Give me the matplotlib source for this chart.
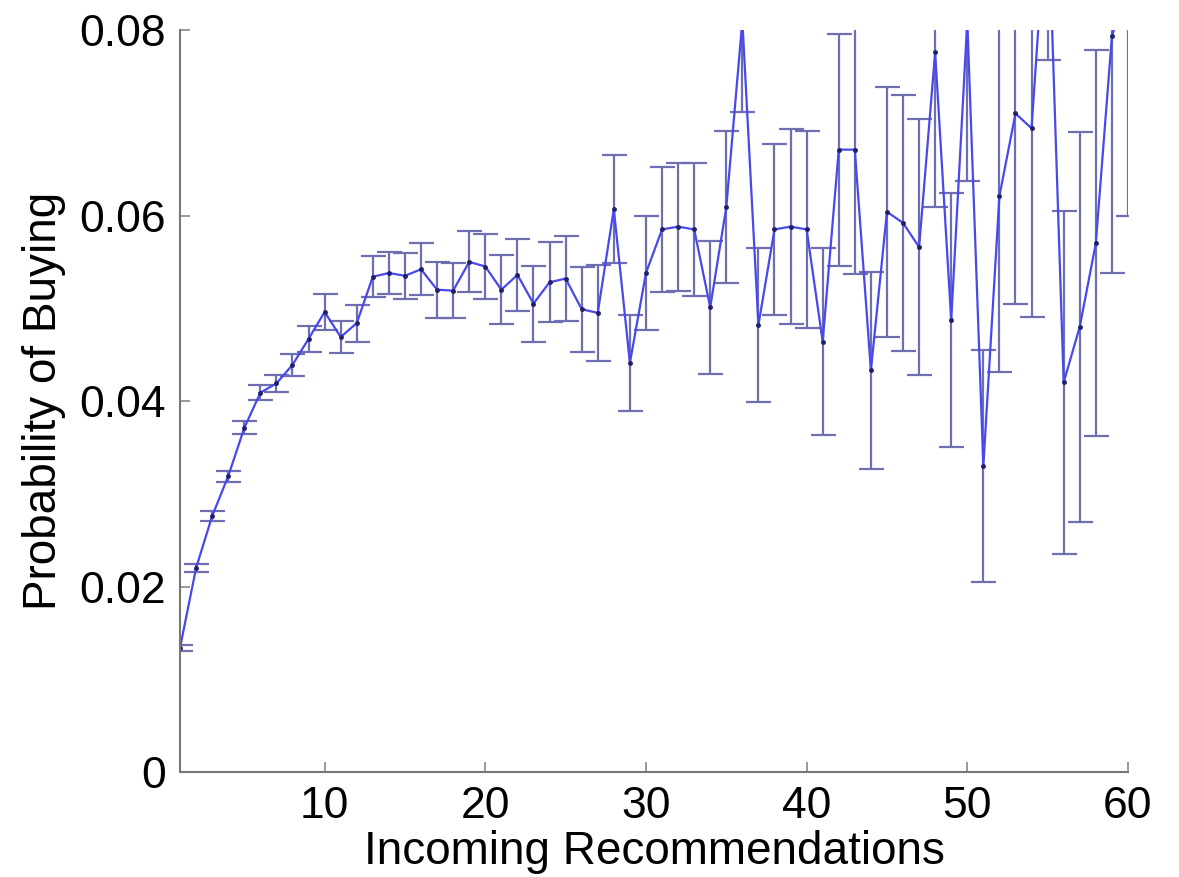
import matplotlib
matplotlib.use("Agg")
import matplotlib.pyplot as plt
import numpy as np

# incoming recommendations (x) and probability of buying with its std error
recs = np.arange(1, 61)
prob = [
    0.0134, 0.0220, 0.0276, 0.0319, 0.0371, 0.0409, 0.0419, 0.0439, 0.0467, 0.0496,
    0.0469, 0.0484, 0.0534, 0.0538, 0.0535, 0.0542, 0.0520, 0.0519, 0.0550, 0.0545,
    0.0520, 0.0536, 0.0505, 0.0528, 0.0532, 0.0499, 0.0495, 0.0607, 0.0441, 0.0538,
    0.0585, 0.0588, 0.0585, 0.0501, 0.0609, 0.0810, 0.0482, 0.0585, 0.0588, 0.0585,
    0.0464, 0.0671, 0.0671, 0.0433, 0.0604, 0.0592, 0.0566, 0.0776, 0.0487, 0.0810,
    0.0330, 0.0621, 0.0710, 0.0694, 0.0950, 0.0420, 0.0480, 0.0570, 0.0793, 0.0850,
]
err = [
    0.0003, 0.0004, 0.0005, 0.0006, 0.0007, 0.0008, 0.0009, 0.0012, 0.0014, 0.0019,
    0.0017, 0.0020, 0.0022, 0.0023, 0.0025, 0.0028, 0.0030, 0.0030, 0.0033, 0.0035,
    0.0037, 0.0039, 0.0041, 0.0043, 0.0046, 0.0046, 0.0052, 0.0058, 0.0052, 0.0061,
    0.0067, 0.0069, 0.0072, 0.0072, 0.0082, 0.0098, 0.0083, 0.0092, 0.0105, 0.0106,
    0.0101, 0.0125, 0.0134, 0.0106, 0.0135, 0.0138, 0.0138, 0.0167, 0.0137, 0.0173,
    0.0125, 0.0190, 0.0205, 0.0203, 0.0182, 0.0185, 0.0210, 0.0208, 0.0255, 0.0250,
]

plt.rcParams["font.family"] = ["Liberation Sans", "DejaVu Sans"]

fig = plt.figure(figsize=(11.79, 8.77), dpi=100)
ax = fig.add_axes([0.1527, 0.1197, 0.804, 0.8461])

# error bars first, then the line with small dots on top
ax.errorbar(recs, prob, yerr=err, fmt="none", ecolor="#6e6eb0",
            elinewidth=1.6, capsize=9, capthick=1.6)
ax.plot(recs, prob, color="#4848ee", linewidth=1.6, marker=".",
        markersize=5, markerfacecolor="#20206a", markeredgecolor="#20206a")

ax.set_xlim(1, 60)
ax.set_ylim(0, 0.08)
ax.set_xticks([10, 20, 30, 40, 50, 60])
ax.set_yticks([0, 0.02, 0.04, 0.06, 0.08])
ax.set_yticklabels(["0", "0.02", "0.04", "0.06", "0.08"])

for side in ["top", "right"]:
    ax.spines[side].set_visible(False)
for side in ["left", "bottom"]:
    ax.spines[side].set_color("#777777")
    ax.spines[side].set_linewidth(1.5)

ax.tick_params(axis="both", direction="in", length=7, width=1.2,
               color="#888888", labelsize=32, pad=10)

ax.set_xlabel("Incoming Recommendations", fontsize=33, labelpad=2)
ax.set_ylabel("Probability of Buying", fontsize=33, labelpad=10)

fig.savefig("out.png", dpi=100)
